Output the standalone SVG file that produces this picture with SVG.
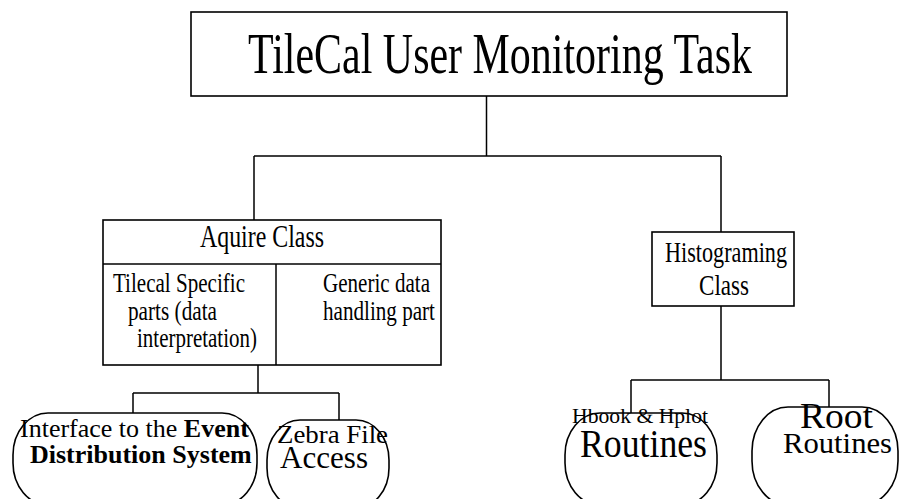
<svg xmlns="http://www.w3.org/2000/svg" width="899" height="499" viewBox="0 0 899 499">
<style>
  .box { fill: #fff; stroke: #000; stroke-width: 1.6; }
  .node { fill: #fff; stroke: #000; stroke-width: 1.6; }
  .conn { fill: none; stroke: #000; stroke-width: 1.5; }
  text { font-family: "Liberation Serif", "Times New Roman", serif; fill: #000; }
  .b { font-weight: bold; }
</style>
<rect width="899" height="499" fill="#fff"/>
<g id="connectors">
  <path class="conn" d="M486.5,96 V156 M254,156 H721 M254,156 V220 M721,156 V232"/>
  <path class="conn" d="M258,365 V393 M133,393 H339 M133,393 V413 M339,393 V420"/>
  <path class="conn" d="M721,306 V380 M631,380 H829 M631,380 V414 M829,380 V408"/>
</g>
<g id="task">
  <rect class="box" x="191" y="12" width="596" height="84"/>
  <text x="248" y="73" font-size="56" textLength="504" lengthAdjust="spacingAndGlyphs">TileCal User Monitoring Task</text>
</g>
<g id="aquire">
  <rect class="box" x="103" y="220" width="338" height="145"/>
  <line class="conn" x1="103" y1="264" x2="441" y2="264"/>
  <line class="conn" x1="276" y1="264" x2="276" y2="365"/>
  <text x="200" y="247" font-size="32" textLength="124" lengthAdjust="spacingAndGlyphs">Aquire Class</text>
  <text x="113" y="292" font-size="28" textLength="132" lengthAdjust="spacingAndGlyphs">Tilecal Specific</text>
  <text x="128" y="320" font-size="28" textLength="89" lengthAdjust="spacingAndGlyphs">parts (data</text>
  <text x="137" y="347" font-size="28" textLength="120" lengthAdjust="spacingAndGlyphs">interpretation)</text>
  <text x="323" y="292" font-size="28" textLength="107" lengthAdjust="spacingAndGlyphs">Generic data</text>
  <text x="323" y="320" font-size="28" textLength="112" lengthAdjust="spacingAndGlyphs">handling part</text>
</g>
<g id="histo">
  <rect class="box" x="652" y="232" width="142" height="74"/>
  <text x="665" y="262" font-size="30" textLength="122" lengthAdjust="spacingAndGlyphs">Histograming</text>
  <text x="699" y="295" font-size="30" textLength="50" lengthAdjust="spacingAndGlyphs">Class</text>
</g>
<g id="interface">
  <rect class="node" x="13" y="413" width="244" height="92" rx="35" ry="42"/>
  <text x="20" y="437" font-size="26">Interface to the <tspan class="b">Event</tspan></text>
  <text x="30" y="463" font-size="26" class="b">Distribution System</text>
</g>
<g id="zebra">
  <rect class="node" x="267" y="420" width="122" height="88" rx="33" ry="40"/>
  <text x="277" y="443" font-size="26" textLength="111" lengthAdjust="spacingAndGlyphs">Zebra File</text>
  <text x="280" y="468" font-size="31" textLength="88" lengthAdjust="spacingAndGlyphs">Access</text>
</g>
<g id="hbook">
  <rect class="node" x="565" y="413" width="152" height="92" rx="35" ry="42"/>
  <text x="572" y="423" font-size="21" textLength="136" lengthAdjust="spacingAndGlyphs">Hbook &amp; Hplot</text>
  <text x="580" y="457" font-size="39" textLength="127" lengthAdjust="spacingAndGlyphs">Routines</text>
</g>
<g id="root">
  <rect class="node" x="752" y="407" width="146" height="98" rx="36" ry="44"/>
  <text x="800" y="428" font-size="35" textLength="73" lengthAdjust="spacingAndGlyphs">Root</text>
  <text x="783" y="453" font-size="30" textLength="109" lengthAdjust="spacingAndGlyphs">Routines</text>
</g>
</svg>
